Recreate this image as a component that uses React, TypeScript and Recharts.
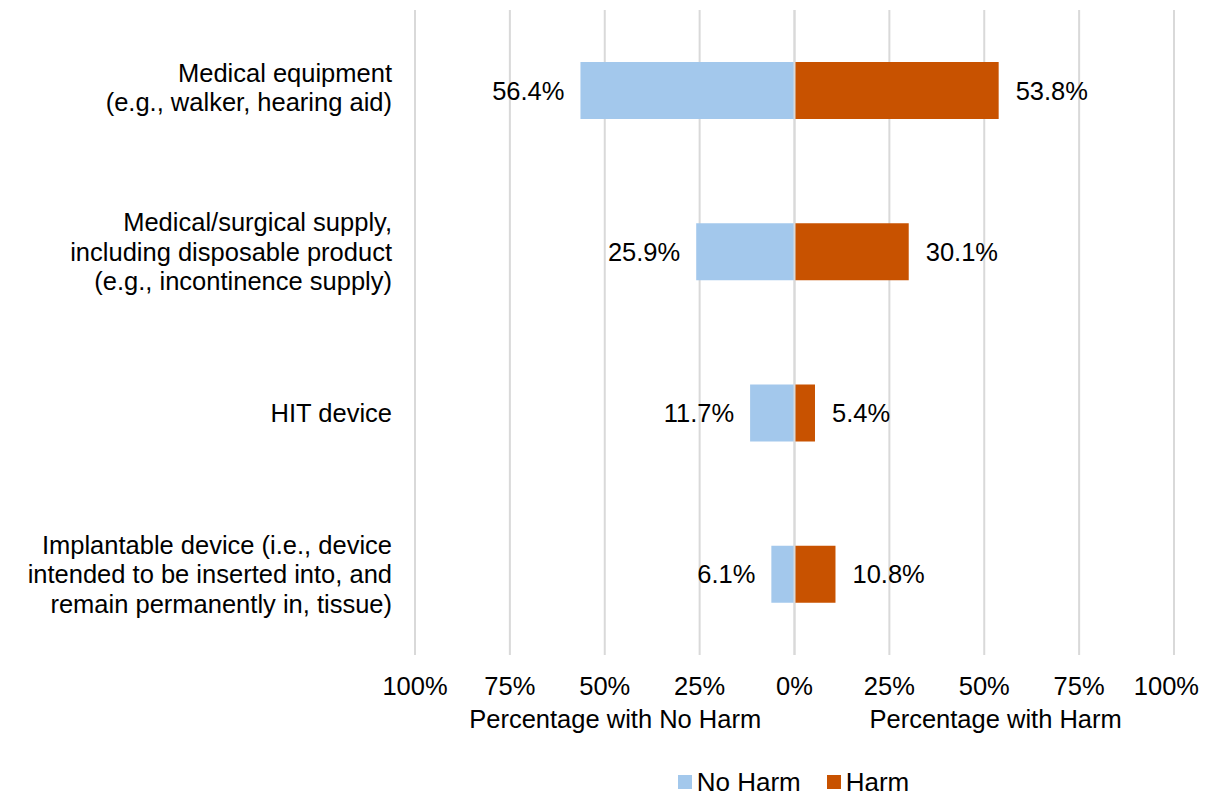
import React from "react";
import {
  BarChart,
  Bar,
  XAxis,
  YAxis,
  CartesianGrid,
  Legend,
  LabelList,
  ReferenceLine,
} from "recharts";

const categories: string[][] = [
  ["Medical equipment", "(e.g., walker, hearing aid)"],
  ["Medical/surgical supply,", "including disposable product", "(e.g., incontinence supply)"],
  ["HIT device"],
  ["Implantable device (i.e., device", "intended to be inserted into, and", "remain permanently in, tissue)"],
];
const noHarmValues = [56.4, 25.9, 11.7, 6.1];
const harmValues = [53.8, 30.1, 5.4, 10.8];
const xTicks = [-100, -75, -50, -25, 0, 25, 50, 75, 100];
const axisTitles = ["Percentage with No Harm", "Percentage with Harm"];
const seriesNames = ["No Harm", "Harm"];

const BLUE = "#A3C8EC";
const ORANGE = "#C85200";
const GRID = "#D9D9D9";
const FONT = "'Liberation Sans', Arial, sans-serif";
const FS = 25.5;

const data = categories.map((c, i) => ({
  key: String(i),
  noHarm: -noHarmValues[i],
  harm: harmValues[i],
}));

const CategoryTick = (props: any) => {
  const { x, y, payload } = props;
  const lines = categories[Number(payload.value)];
  const lh = 29.5;
  const start = y - ((lines.length - 1) * lh) / 2 - (lines.length === 2 ? 3 : 0);
  return (
    <text x={x - 23} y={start} textAnchor="end" fontFamily={FONT} fontSize={FS} fill="#000">
      {lines.map((l, i) => (
        <tspan key={i} x={x - 23} y={start + i * lh} dominantBaseline="central">
          {l}
        </tspan>
      ))}
    </text>
  );
};

const ValueTick = (props: any) => {
  const { x, y, payload } = props;
  const edge = payload.value === 100;
  return (
    <text
      x={edge ? x + 25 : x}
      y={y + 40}
      textAnchor={edge ? "end" : "middle"}
      fontFamily={FONT}
      fontSize={FS}
      fill="#000"
    >
      {Math.abs(payload.value) + "%"}
    </text>
  );
};

const AxisTitles = (props: any) => {
  const vb = props.viewBox || {};
  const x0 = vb.x ?? 0;
  const w = vb.width ?? 0;
  const y0 = vb.y ?? 0;
  return (
    <g>
      <text x={x0 + w * 0.2638} y={y0 + 73} textAnchor="middle" fontFamily={FONT} fontSize={FS} fill="#000">
        {axisTitles[0]}
      </text>
      <text x={x0 + w * 0.765} y={y0 + 73} textAnchor="middle" fontFamily={FONT} fontSize={FS} fill="#000">
        {axisTitles[1]}
      </text>
    </g>
  );
};

const makeLabel = (side: "left" | "right") => (props: any) => {
  const { x, y, width, height, value } = props;
  const l = Math.min(x, x + width);
  const r = Math.max(x, x + width);
  const cy = y + height / 2;
  const txt = Math.abs(Number(value)).toFixed(1) + "%";
  return side === "left" ? (
    <text x={l - 16} y={cy} textAnchor="end" dominantBaseline="central" fontFamily={FONT} fontSize={FS} fill="#000">
      {txt}
    </text>
  ) : (
    <text x={r + 17} y={cy} textAnchor="start" dominantBaseline="central" fontFamily={FONT} fontSize={FS} fill="#000">
      {txt}
    </text>
  );
};

const LegendContent = () => {
  const items = [
    { name: seriesNames[0], color: BLUE },
    { name: seriesNames[1], color: ORANGE },
  ];
  return (
    <div
      style={{
        height: 41,
        display: "flex",
        alignItems: "flex-end",
        justifyContent: "center",
        fontFamily: FONT,
        fontSize: 26,
        color: "#000",
        paddingLeft: 405,
        boxSizing: "border-box",
      }}
    >
      {items.map((it, i) => (
        <div
          key={it.name}
          style={{ display: "flex", alignItems: "center", height: 28, marginRight: i === 0 ? 26 : 0 }}
        >
          <div style={{ width: 14, height: 14, background: it.color, marginRight: 5 }} />
          <span style={{ lineHeight: "28px" }}>{it.name}</span>
        </div>
      ))}
    </div>
  );
};

export default function App() {
  return (
    <div style={{ width: 1191, height: 788, background: "#fff" }}>
      <BarChart
        width={1191}
        height={788}
        data={data}
        layout="vertical"
        stackOffset="sign"
        margin={{ top: 2, right: 25, bottom: 0, left: 0 }}
      >
        <CartesianGrid vertical={true} horizontal={false} stroke={GRID} strokeWidth={2} />
        <XAxis
          type="number"
          domain={[-100, 100]}
          ticks={xTicks}
          axisLine={false}
          tickLine={false}
          tickSize={0}
          tickMargin={0}
          height={100}
          tick={<ValueTick />}
          interval={0}
          label={<AxisTitles />}
        />
        <YAxis
          type="category"
          dataKey="key"
          width={407}
          axisLine={false}
          tickLine={false}
          tickSize={0}
          tickMargin={0}
          tick={<CategoryTick />}
          interval={0}
        />
        <Bar dataKey="noHarm" name={seriesNames[0]} stackId="a" fill={BLUE} barSize={57} isAnimationActive={false}>
          <LabelList dataKey="noHarm" content={makeLabel("left")} />
        </Bar>
        <Bar dataKey="harm" name={seriesNames[1]} stackId="a" fill={ORANGE} barSize={57} isAnimationActive={false}>
          <LabelList dataKey="harm" content={makeLabel("right")} />
        </Bar>
        <ReferenceLine x={0} stroke={GRID} strokeWidth={2} />
        <Legend verticalAlign="bottom" height={41} content={<LegendContent />} />
      </BarChart>
    </div>
  );
}
